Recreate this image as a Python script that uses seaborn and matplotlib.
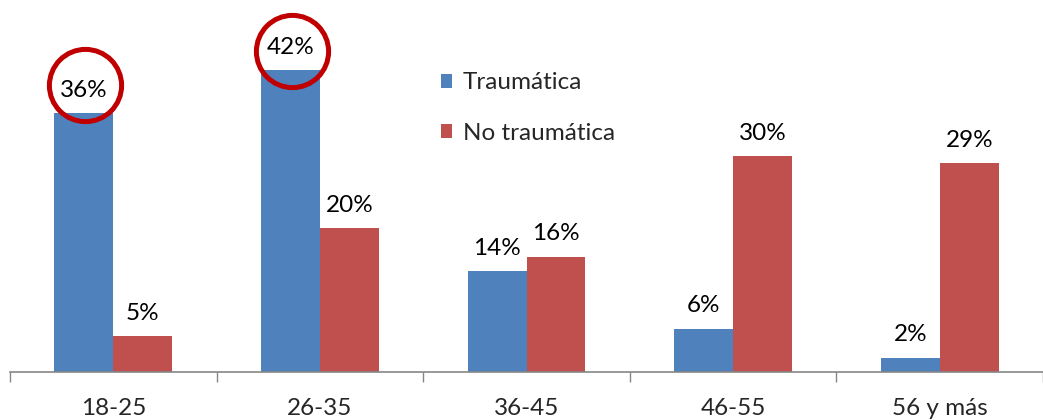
import pandas as pd
import seaborn as sns
import matplotlib.pyplot as plt
from matplotlib.transforms import offset_copy

categories = ["18-25", "26-35", "36-45", "46-55", "56 y más"]
traumatica = [36, 42, 14, 6, 2]
no_traumatica = [5, 20, 16, 30, 29]
series = ["Traumática", "No traumática"]
circled = [0, 1]  # categories whose Traumática label is circled

df = pd.DataFrame({
    "grupo": categories * 2,
    "valor": traumatica + no_traumatica,
    "tipo": [series[0]] * len(categories) + [series[1]] * len(categories),
})

sns.set_style("white")
plt.rcParams["font.family"] = ["Lato", "DejaVu Sans"]

fig = plt.figure(figsize=(10.43, 4.2), dpi=100)
ax = fig.add_axes([10 / 1043, 48 / 420, 1 - 10 / 1043, 1 - 48 / 420])

ax = sns.barplot(data=df, x="grupo", y="valor", hue="tipo", order=categories,
                 hue_order=series, palette=["#4F81BD", "#C0504D"], saturation=1,
                 width=0.571, linewidth=0, ax=ax)

for cont in ax.containers:
    ax.bar_label(cont, labels=[f"{int(v)}%" for v in cont.datavalues],
                 padding=9, fontsize=17.5, color="black")

# red circles around the highlighted labels
blue_bars = ax.containers[0]
circle_off = [28, 19]  # pixel offset of circle centre above bar top
for i, off in zip(circled, circle_off):
    bar = blue_bars[i]
    tr = offset_copy(ax.transData, fig=fig, x=1.5, y=off, units="dots")
    ax.plot(bar.get_x() + bar.get_width() / 2, bar.get_height(), marker="o",
            markersize=52, markerfacecolor="none", markeredgecolor="#C00000",
            markeredgewidth=3.6, transform=tr, clip_on=False)

ax.set_xlim(-0.5, -0.5 + 1033 / 208.25)
ax.set_ylim(0, 372 / 7.19)
ax.set_yticks([])
ax.set_xlabel("")
ax.set_ylabel("")

# tick marks at category boundaries, labels at centres
ax.set_xticks([i - 0.5 for i in range(len(categories) + 1)])
ax.set_xticklabels([])
ax.tick_params(axis="x", which="major", length=7.2, width=1, color="#868686",
               direction="out", bottom=True)
ax.set_xticks(range(len(categories)), minor=True)
ax.set_xticklabels(categories, minor=True, fontsize=17.5)
ax.tick_params(axis="x", which="minor", length=0, pad=19)

for s in ["left", "top", "right"]:
    ax.spines[s].set_visible(False)
ax.spines["bottom"].set_color("#868686")
ax.spines["bottom"].set_linewidth(1.2)

leg = ax.legend(loc="center left", bbox_to_anchor=(429 / 1043, 1 - 108 / 420),
                bbox_transform=fig.transFigure, frameon=False, fontsize=17.5,
                handlelength=0.45, handleheight=0.5, handletextpad=0.45,
                labelspacing=1.2, borderpad=0)

fig.savefig("out.png", dpi=100)
